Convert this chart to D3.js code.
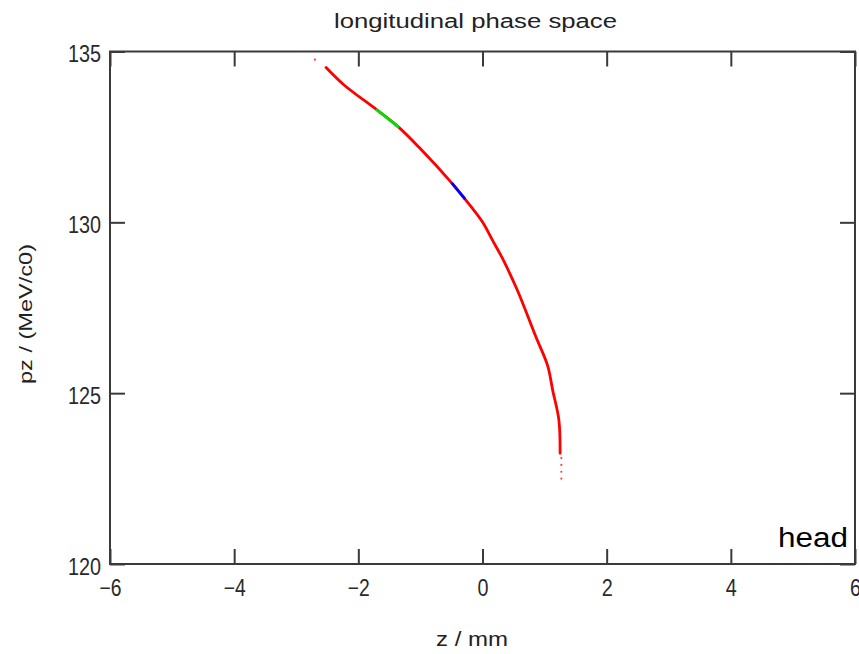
<!DOCTYPE html>
<html lang="en">
<head>
    <meta charset="UTF-8">
    <title>longitudinal phase space</title>
    <script src="https://d3js.org/d3.v7.min.js"></script>
    <style>
        body { margin: 0; background: #fff; }
        .tick text { font-family: "Liberation Sans Narrow", "Liberation Sans", sans-serif; font-size: 23px; fill: #2a2a2a; }
    </style>
</head>
<body>
    <div id="chart"></div>
    <script>
        // Data (z in mm, pz in MeV/c0)
        const redZ  = [-2.52, -2.23, -1.70, -1.36, -1.03, -0.49, -0.29, 0.00, 0.16, 0.32, 0.56, 0.86, 1.05, 1.13, 1.23, 1.25];
        const redPz = [134.53, 134.02, 133.29, 132.80, 132.21, 131.14, 130.70, 130.01, 129.48, 128.95, 128.02, 126.65, 125.80, 125.09, 124.22, 123.24];
        const greenZ  = [-1.70, -1.36];
        const greenPz = [133.29, 132.80];
        const blueZ  = [-0.49, -0.29];
        const bluePz = [131.14, 130.70];
        const dotZ  = [-2.70, 1.27, 1.27, 1.27, 1.27];
        const dotPz = [134.76, 123.1, 122.9, 122.7, 122.5];
        const xTicks = [-6, -4, -2, 0, 2, 4, 6];
        const yTicks = [120, 125, 130, 135];

        const width = 859, height = 654;
        const plotLeft = 110, plotRight = 855, plotTop = 51.5, plotBottom = 564;

        const svg = d3.select("#chart").append("svg")
            .attr("width", width)
            .attr("height", height);

        const x = d3.scaleLinear().domain([-6, 6]).range([plotLeft, plotRight]);
        const y = d3.scaleLinear().domain([120, 135]).range([plotBottom, plotTop]);

        const axisColor = "#3a3a3a";

        // axes with inward ticks
        const gB = svg.append("g").attr("transform", `translate(0,${plotBottom})`)
            .call(d3.axisBottom(x).tickValues(xTicks).tickSizeInner(-15).tickSizeOuter(0).tickPadding(16));
        const gT = svg.append("g").attr("transform", `translate(0,${plotTop})`)
            .call(d3.axisTop(x).tickValues(xTicks).tickSizeInner(-15).tickSizeOuter(0).tickFormat(""));
        const gL = svg.append("g").attr("transform", `translate(${plotLeft},0)`)
            .call(d3.axisLeft(y).tickValues(yTicks).tickSizeInner(-15).tickSizeOuter(0).tickPadding(9));
        const gR = svg.append("g").attr("transform", `translate(${plotRight},0)`)
            .call(d3.axisRight(y).tickValues(yTicks).tickSizeInner(-15).tickSizeOuter(0).tickFormat(""));

        [gB, gT, gL, gR].forEach(g => {
            g.select(".domain").remove();
            g.selectAll(".tick line").attr("stroke", axisColor).attr("stroke-width", 2);
        });
        gL.selectAll(".tick text").attr("dy", "0.45em");

        // condensed look of the tick labels
        [gB, gL].forEach(g => {
            g.selectAll(".tick text")
                .attr("textLength", function () { return this.textContent.length * 11; })
                .attr("lengthAdjust", "spacingAndGlyphs");
        });

        // frame
        svg.append("rect")
            .attr("x", plotLeft).attr("y", plotTop)
            .attr("width", plotRight - plotLeft).attr("height", plotBottom - plotTop)
            .attr("fill", "none").attr("stroke", axisColor).attr("stroke-width", 2);

        const line = d3.line()
            .x(d => x(d[0]))
            .y(d => y(d[1]))
            .curve(d3.curveCatmullRom);

        const series = [
            { z: redZ, pz: redPz, color: "#ff0000" },
            { z: greenZ, pz: greenPz, color: "#00e000" },
            { z: blueZ, pz: bluePz, color: "#0000ff" }
        ];

        svg.selectAll("path.trace")
            .data(series)
            .enter()
            .append("path")
            .attr("class", "trace")
            .attr("d", s => line(s.z.map((v, i) => [v, s.pz[i]])))
            .attr("fill", "none")
            .attr("stroke", s => s.color)
            .attr("stroke-width", 2.8)
            .attr("stroke-linecap", "round");

        svg.selectAll("circle.dot")
            .data(dotZ.map((v, i) => [v, dotPz[i]]))
            .enter()
            .append("circle")
            .attr("class", "dot")
            .attr("cx", d => x(d[0]))
            .attr("cy", d => y(d[1]))
            .attr("r", 1.1)
            .attr("fill", "#ff4040");

        // texts
        svg.append("text")
            .attr("x", 334).attr("y", 28)
            .attr("textLength", 283).attr("lengthAdjust", "spacingAndGlyphs")
            .style("font-family", "Liberation Sans, Arial, sans-serif")
            .style("font-size", "20px")
            .attr("fill", "#222")
            .text("longitudinal phase space");

        svg.append("text")
            .attr("x", 436).attr("y", 646)
            .attr("textLength", 72).attr("lengthAdjust", "spacingAndGlyphs")
            .style("font-family", "Liberation Sans, Arial, sans-serif")
            .style("font-size", "20px")
            .attr("fill", "#222")
            .text("z / mm");

        svg.append("text")
            .attr("transform", "translate(32,384) rotate(-90)")
            .attr("textLength", 140).attr("lengthAdjust", "spacingAndGlyphs")
            .style("font-family", "Liberation Sans, Arial, sans-serif")
            .style("font-size", "19px")
            .attr("fill", "#222")
            .text("pz / (MeV/c0)");

        svg.append("text")
            .attr("x", 778).attr("y", 547)
            .attr("textLength", 70).attr("lengthAdjust", "spacingAndGlyphs")
            .style("font-family", "Liberation Sans, Arial, sans-serif")
            .style("font-size", "27px")
            .attr("fill", "#000")
            .text("head");
    </script>
</body>
</html>
